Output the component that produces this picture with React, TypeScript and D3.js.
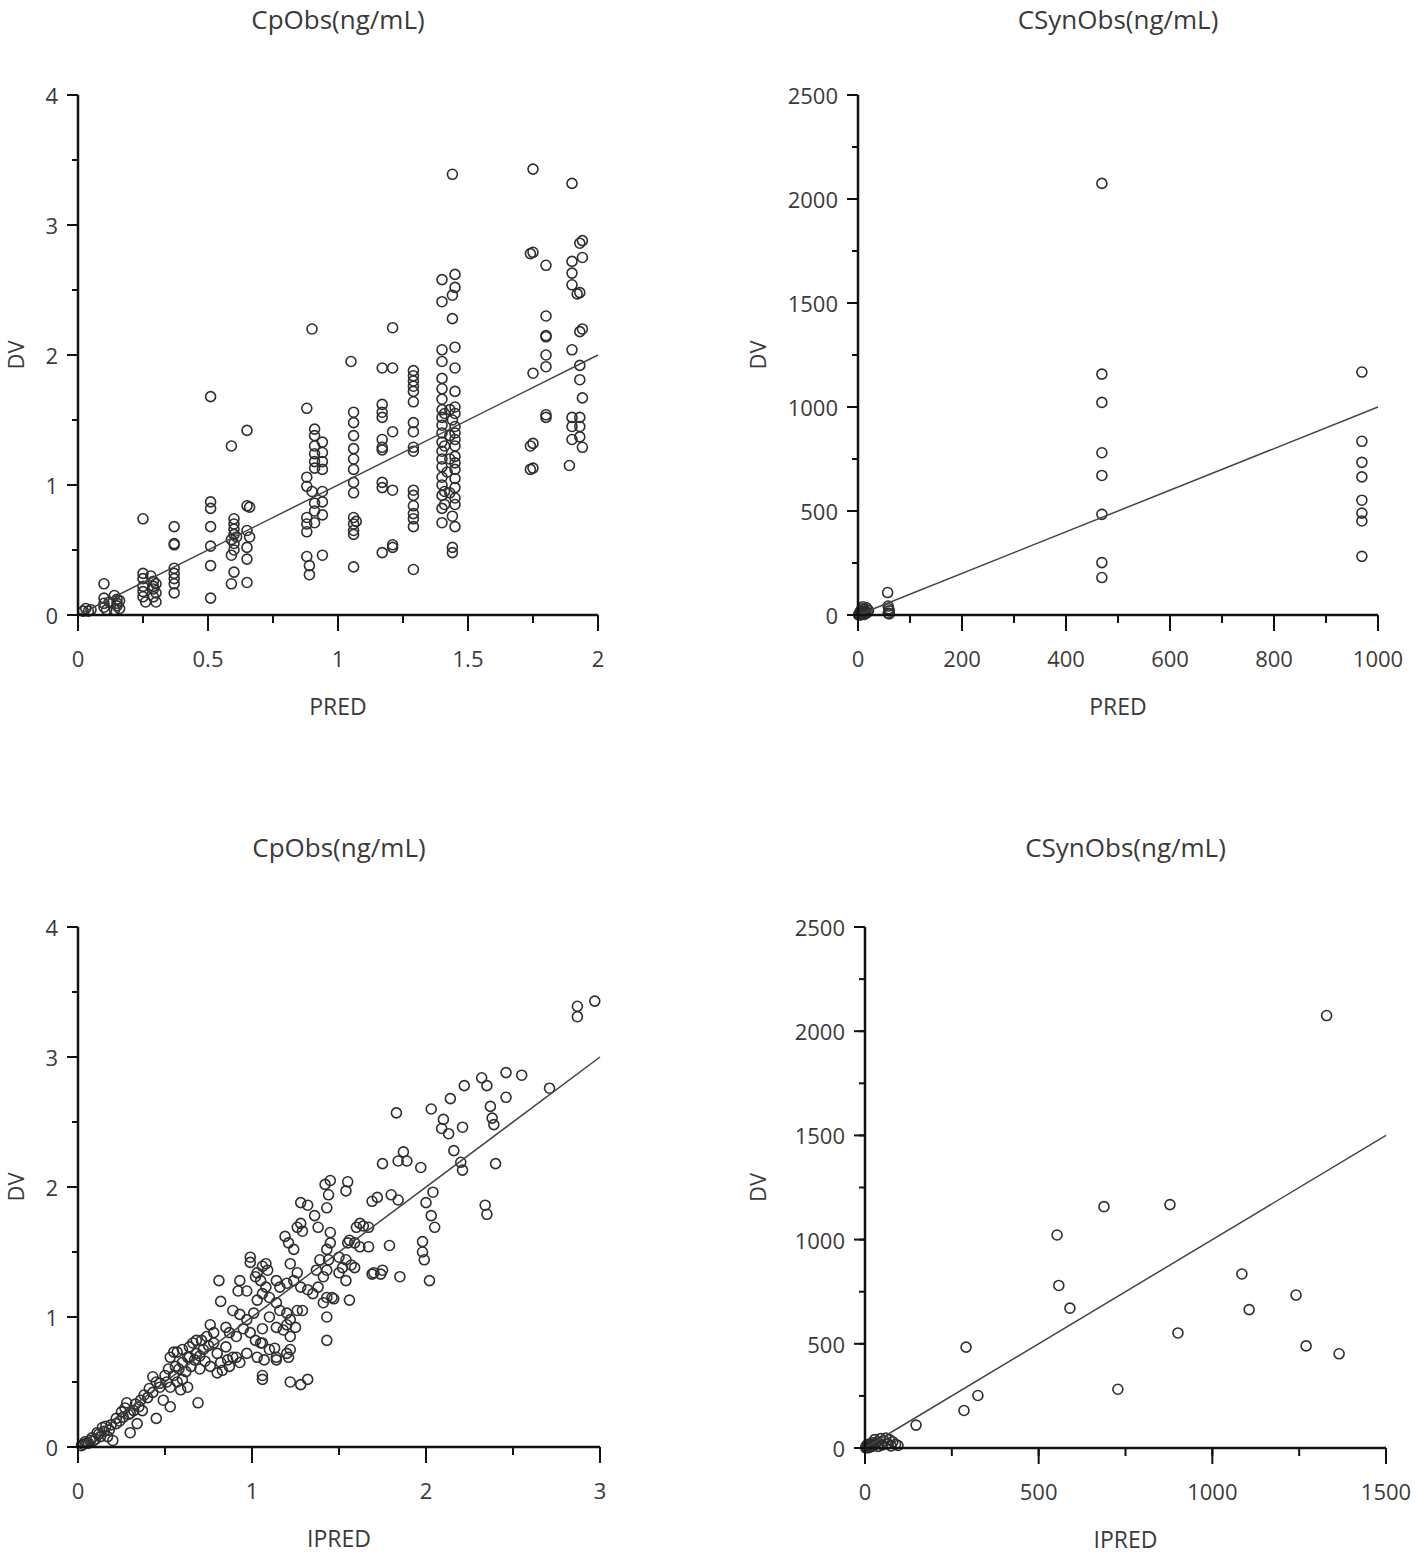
import React from "react";
import * as d3 from "d3";

// ---------- DATA ----------
// Panel 1: CpObs DV vs PRED
const cpPredPoints: [number, number][] = [
  [0.02,0.03],[0.03,0.05],[0.04,0.03],[0.05,0.04],
  [0.1,0.24],[0.1,0.13],[0.1,0.09],[0.1,0.06],[0.11,0.04],[0.12,0.1],
  [0.14,0.15],[0.15,0.12],[0.15,0.09],[0.15,0.07],[0.16,0.05],[0.14,0.04],[0.16,0.11],
  [0.25,0.74],[0.25,0.32],[0.25,0.28],[0.25,0.22],[0.25,0.18],[0.25,0.14],[0.26,0.1],
  [0.28,0.3],[0.29,0.26],[0.29,0.22],[0.29,0.2],[0.3,0.17],[0.29,0.14],[0.3,0.1],[0.3,0.24],
  [0.37,0.68],[0.37,0.55],[0.37,0.54],[0.37,0.36],[0.37,0.32],[0.37,0.28],[0.37,0.24],[0.37,0.17],
  [0.51,1.68],[0.51,0.87],[0.51,0.82],[0.51,0.68],[0.51,0.53],[0.51,0.38],[0.51,0.13],
  [0.59,1.3],[0.6,0.74],[0.6,0.7],[0.6,0.66],[0.6,0.62],[0.59,0.58],[0.6,0.55],[0.6,0.5],[0.59,0.46],[0.6,0.33],[0.59,0.24],[0.61,0.6],
  [0.65,1.42],[0.65,0.84],[0.66,0.83],[0.65,0.65],[0.66,0.6],[0.65,0.52],[0.65,0.43],[0.65,0.25],
  [0.88,1.59],[0.88,1.06],[0.88,0.99],[0.88,0.75],[0.88,0.7],[0.88,0.64],[0.88,0.45],[0.89,0.38],[0.89,0.31],
  [0.9,2.2],[0.91,1.43],[0.91,1.38],[0.91,1.3],[0.91,1.24],[0.91,1.18],[0.91,1.13],[0.91,0.86],[0.91,0.8],[0.91,0.71],[0.9,0.95],
  [0.94,1.33],[0.94,1.25],[0.94,1.18],[0.94,1.12],[0.94,0.95],[0.94,0.87],[0.94,0.77],[0.94,0.46],
  [1.05,1.95],[1.06,1.56],[1.06,1.48],[1.06,1.38],[1.06,1.28],[1.06,1.2],[1.06,1.12],[1.06,1.02],[1.06,0.94],[1.06,0.75],[1.06,0.7],[1.06,0.65],[1.06,0.62],[1.06,0.37],[1.07,0.72],
  [1.17,1.9],[1.17,1.62],[1.17,1.56],[1.17,1.52],[1.17,1.35],[1.17,1.29],[1.17,1.27],[1.17,1.02],[1.17,0.98],[1.17,0.48],
  [1.21,2.21],[1.21,1.9],[1.21,1.41],[1.21,0.96],[1.21,0.54],[1.21,0.52],
  [1.29,1.88],[1.29,1.84],[1.29,1.8],[1.29,1.76],[1.29,1.72],[1.29,1.48],[1.29,1.41],[1.29,1.29],[1.29,1.26],[1.29,0.96],[1.29,0.92],[1.29,0.84],[1.29,0.78],[1.29,0.74],[1.29,0.68],[1.29,0.35],[1.29,1.64],
  [1.4,2.58],[1.4,2.41],[1.4,2.04],[1.4,1.95],[1.4,1.82],[1.4,1.74],[1.4,1.66],[1.4,1.58],[1.4,1.52],[1.4,1.46],[1.4,1.4],[1.4,1.33],[1.4,1.26],[1.4,1.2],[1.4,1.14],[1.4,1.06],[1.4,1.0],[1.4,0.92],[1.4,0.82],[1.4,0.71],[1.41,1.55],[1.41,1.3],[1.41,0.95],[1.41,0.85],[1.42,1.1],
  [1.44,3.39],[1.45,2.62],[1.45,2.52],[1.44,2.46],[1.44,2.28],[1.45,2.06],[1.45,1.9],[1.45,1.72],[1.45,1.6],[1.45,1.55],[1.44,1.5],[1.45,1.45],[1.45,1.4],[1.45,1.35],[1.45,1.3],[1.45,1.22],[1.45,1.17],[1.45,1.12],[1.45,1.05],[1.45,0.98],[1.45,0.9],[1.45,0.85],[1.44,0.76],[1.45,0.68],[1.44,0.52],[1.44,0.48],[1.43,1.58],[1.43,1.38],[1.43,1.2],[1.43,0.94],
  [1.75,3.43],[1.75,2.79],[1.74,2.78],[1.75,1.86],[1.75,1.32],[1.74,1.3],[1.75,1.13],[1.74,1.12],
  [1.8,2.69],[1.8,2.3],[1.8,2.15],[1.8,2.14],[1.8,2.0],[1.8,1.91],[1.8,1.54],[1.8,1.52],
  [1.9,3.32],[1.9,2.72],[1.9,2.63],[1.9,2.54],[1.9,2.04],[1.9,1.52],[1.9,1.45],[1.9,1.35],[1.89,1.15],
  [1.94,2.88],[1.93,2.86],[1.94,2.75],[1.93,2.48],[1.92,2.47],[1.94,2.2],[1.93,2.18],[1.93,1.92],[1.93,1.81],[1.94,1.67],[1.93,1.52],[1.93,1.45],[1.93,1.37],[1.94,1.29],
];

// Panel 2: CSynObs DV vs PRED
const csynPredPoints: [number, number][] = [
  [1,1],[2,5],[3,10],[4,1],[5,2],[5,20],[6,8],[7,3],[8,15],[8,30],[9,40],[10,5],[10,12],[12,25],[12,3],[14,18],[15,8],[16,35],[18,12],[20,22],
  [57,108],[58,43],[59,30],[60,20],[58,9],[60,5],
  [469,2075],[469,1158],[469,1022],[469,780],[469,671],[469,484],[469,252],[469,180],
  [969,1168],[969,835],[969,734],[969,664],[969,552],[969,490],[969,452],[969,282],
];

// Panel 3: CpObs DV vs IPRED
const cpIpredPoints: [number, number][] = [
  [2.97,3.43],[2.87,3.39],[2.87,3.31],[2.71,2.76],[2.55,2.86],[2.46,2.88],[2.46,2.69],[2.32,2.84],[2.35,2.78],[2.22,2.78],[2.37,2.62],[2.38,2.53],[2.39,2.48],[2.4,2.18],[2.34,1.86],[2.35,1.79],[2.14,2.68],[2.03,2.6],[1.83,2.57],[2.21,2.46],[2.1,2.52],[2.09,2.45],[2.13,2.41],[2.16,2.28],[2.2,2.19],[2.21,2.13],[1.87,2.27],[1.84,2.2],[1.89,2.2],[1.97,2.15],[1.75,2.18],[2.04,1.96],[2.0,1.88],[2.03,1.78],[2.05,1.69],[1.98,1.5],[1.99,1.44],[2.02,1.28],[1.98,1.58],[1.85,1.31],[1.8,1.94],[1.84,1.9],[1.72,1.92],[1.69,1.89],[1.79,1.55],[1.75,1.36],[1.69,1.33],[1.74,1.33],
  [1.55,2.04],[1.54,1.97],[1.45,2.05],[1.42,2.02],[1.44,1.94],[1.28,1.88],[1.32,1.86],[1.36,1.78],[1.43,1.84],[1.28,1.72],[1.26,1.69],[1.29,1.66],[1.38,1.69],[1.45,1.65],[1.45,1.57],[1.43,1.52],[1.62,1.72],[1.6,1.69],[1.67,1.69],[1.64,1.7],[1.56,1.59],[1.59,1.57],[1.67,1.54],[1.55,1.57],[1.62,1.54],[1.19,1.62],[1.21,1.57],[1.24,1.52],[0.99,1.46],[0.99,1.42],[1.08,1.41],[1.09,1.36],[1.22,1.41],[1.26,1.34],[1.39,1.44],[1.44,1.44],[1.5,1.46],[1.54,1.44],[1.57,1.4],[1.52,1.38],[1.59,1.38],[1.54,1.28],[1.5,1.34],[1.43,1.36],[1.41,1.31],[1.37,1.36],[1.7,1.34],[0.81,1.28],[0.93,1.28],[1.02,1.31],[1.05,1.28],[1.08,1.23],[1.14,1.28],[1.16,1.23],[1.2,1.26],[1.24,1.28],[1.28,1.23],[1.32,1.21],[1.35,1.18],[1.38,1.23],[1.43,1.15],[1.47,1.14],[1.56,1.13],[0.82,1.12],[0.89,1.05],[0.93,1.02],[0.97,0.98],[1.01,1.03],[1.03,1.13],[1.06,1.18],[1.1,1.15],[1.14,1.11],[1.16,1.05],[1.2,1.03],[1.22,0.98],[1.26,1.05],[1.29,1.05],[1.41,1.11],[1.43,1.0],[1.46,1.15],[0.76,0.94],[0.78,0.88],[0.85,0.92],[0.87,0.88],[0.91,0.85],[0.95,0.91],[0.99,0.88],[1.02,0.82],[1.06,0.91],[1.1,1.0],[1.14,0.92],[1.18,0.9],[1.2,0.94],[1.22,0.85],[1.25,0.92],[1.43,0.82],[0.85,0.77],[0.89,0.69],[0.97,0.72],[1.03,0.69],[1.06,0.8],[1.07,0.67],[1.13,0.76],[1.14,0.67],[1.22,0.75],[1.21,0.69],[1.06,0.55],[1.06,0.52],[1.22,0.5],[1.28,0.48],[1.32,0.52],[0.92,1.2],[0.97,1.2],[1.03,1.34],[1.06,1.39],[1.1,0.75],[1.14,0.69],[1.2,0.72],[1.05,0.8],
  [0.74,0.85],[0.71,0.82],[0.68,0.82],[0.64,0.77],[0.6,0.75],[0.57,0.73],[0.53,0.69],[0.56,0.62],[0.6,0.65],[0.64,0.69],[0.43,0.54],[0.47,0.49],[0.53,0.46],[0.59,0.44],[0.63,0.46],[0.69,0.34],[0.45,0.22],[0.53,0.31],[0.49,0.36],[0.28,0.34],[0.32,0.28],[0.36,0.36],[0.4,0.38],[0.3,0.11],[0.34,0.18],[0.26,0.23],[0.22,0.18],[0.14,0.15],[0.18,0.13],[0.13,0.08],[0.09,0.05],[0.05,0.03],[0.17,0.08],[0.2,0.05],[0.8,0.72],[0.82,0.65],[0.86,0.67],[0.87,0.62],[0.91,0.69],[0.93,0.65],[0.76,0.62],[0.8,0.57],[0.83,0.59],[0.66,0.8],[0.68,0.72],[0.63,0.69],[0.55,0.73],[0.47,0.46],[0.51,0.5],[0.43,0.42],[0.37,0.28],[0.3,0.26],[0.11,0.11],[0.07,0.05],[0.03,0.02],[0.22,0.22],[0.02,0.01],[0.04,0.04],[0.06,0.03],[0.08,0.07],[0.1,0.06],[0.12,0.1],[0.15,0.12],[0.16,0.16],[0.19,0.17],[0.24,0.2],[0.25,0.27],[0.27,0.3],[0.29,0.25],[0.33,0.33],[0.35,0.31],[0.38,0.4],[0.41,0.45],[0.45,0.5],[0.5,0.55],[0.52,0.6],[0.55,0.55],[0.58,0.6],[0.62,0.58],[0.65,0.62],[0.67,0.67],[0.7,0.7],[0.72,0.75],[0.73,0.66],[0.75,0.78],[0.78,0.8],[0.7,0.6],[0.6,0.52],[0.57,0.5],
];

// Panel 4: CSynObs DV vs IPRED
const csynIpredPoints: [number, number][] = [
  [2,1],[3,8],[5,3],[6,15],[8,6],[10,2],[12,10],[14,20],[15,5],[18,14],[20,8],[22,25],[25,12],[28,40],[30,18],[35,30],[38,8],[40,22],[45,45],[50,15],[55,35],[60,48],[65,20],[70,40],[75,10],[80,30],[88,18],[95,12],
  [147,110],[285,180],[291,484],[325,252],
  [553,1022],[558,780],[590,671],[688,1158],[728,282],[878,1168],[901,552],
  [1085,835],[1106,664],[1241,734],[1270,490],[1329,2075],[1365,452],
];

const panelTitles = ["CpObs(ng/mL)", "CSynObs(ng/mL)", "CpObs(ng/mL)", "CSynObs(ng/mL)"];
const xAxisLabels = ["PRED", "PRED", "IPRED", "IPRED"];
const yAxisLabel = "DV";
const xDomains: [number, number][] = [[0, 2], [0, 1000], [0, 3], [0, 1500]];
const yDomains: [number, number][] = [[0, 4], [0, 2500], [0, 4], [0, 2500]];
const xMajorSteps = [0.5, 200, 1, 500];
const xMinorSteps = [0.25, 100, 0.5, 250];
const yMajorSteps = [1, 500, 1, 500];
const yMinorSteps = [0.5, 250, 0.5, 250];
const panelData = [cpPredPoints, csynPredPoints, cpIpredPoints, csynIpredPoints];

// ---------- LAYOUT ----------
const layouts = [
  { left: 78, right: 598, top: 95, bottom: 615, titleY: 29, labelX: 15 },
  { left: 858, right: 1378, top: 95, bottom: 615, titleY: 29, labelX: 757 },
  { left: 78, right: 600, top: 927, bottom: 1447, titleY: 857, labelX: 15 },
  { left: 865, right: 1386, top: 927, bottom: 1448, titleY: 857, labelX: 757 },
];

const FONT = "'Open Sans', 'Noto Sans', sans-serif";
const TEXT_COLOR = "#3a3a3a";

function steps(d: [number, number], s: number) {
  return d3.range(d[0], d[1] + s * 0.001, s);
}

function Panel({ i }: { i: number }) {
  const L = layouts[i];
  const x = d3.scaleLinear().domain(xDomains[i]).range([L.left, L.right]);
  const y = d3.scaleLinear().domain(yDomains[i]).range([L.bottom, L.top]);
  const fmt = d3.format("~g");
  const xMaj = steps(xDomains[i], xMajorSteps[i]);
  const xMin = steps(xDomains[i], xMinorSteps[i]);
  const yMaj = steps(yDomains[i], yMajorSteps[i]);
  const yMin = steps(yDomains[i], yMinorSteps[i]);
  const xmax = xDomains[i][1];
  const line = d3.line<[number, number]>().x((d) => x(d[0])).y((d) => y(d[1]));
  const cx = (L.left + L.right) / 2;
  const cy = (L.top + L.bottom) / 2;
  return (
    <g>
      <text x={cx} y={L.titleY} textAnchor="middle" fontFamily={FONT} fontSize={26} fill={TEXT_COLOR}>
        {panelTitles[i]}
      </text>
      {panelData[i].map((d, k) => (
        <circle key={k} cx={x(d[0])} cy={y(d[1])} r={5} fill="none" stroke="#2e2e2e" strokeWidth={1.6} />
      ))}
      <path d={line([[0, 0], [xmax, xmax]]) || ""} stroke="#444" strokeWidth={1.5} fill="none" />
      <line x1={L.left} x2={L.left} y1={L.top} y2={L.bottom + 1} stroke="#111" strokeWidth={2.5} />
      <line x1={L.left - 1} x2={L.right} y1={L.bottom} y2={L.bottom} stroke="#111" strokeWidth={2.5} />
      {xMin.map((v, k) => (
        <line key={"xm" + k} x1={x(v)} x2={x(v)} y1={L.bottom} y2={L.bottom + 8} stroke="#111" strokeWidth={2} />
      ))}
      {xMaj.map((v, k) => (
        <g key={"xM" + k}>
          <line x1={x(v)} x2={x(v)} y1={L.bottom} y2={L.bottom + 16} stroke="#111" strokeWidth={2} />
          <text x={x(v)} y={L.bottom + 43} textAnchor="middle" dominantBaseline="central" fontFamily={FONT} fontSize={22} fill={TEXT_COLOR}>
            {fmt(v)}
          </text>
        </g>
      ))}
      {yMin.map((v, k) => (
        <line key={"ym" + k} x1={L.left - 6} x2={L.left} y1={y(v)} y2={y(v)} stroke="#111" strokeWidth={2} />
      ))}
      {yMaj.map((v, k) => (
        <g key={"yM" + k}>
          <line x1={L.left - 11} x2={L.left} y1={y(v)} y2={y(v)} stroke="#111" strokeWidth={2} />
          <text x={L.left - 20} y={y(v)} textAnchor="end" dominantBaseline="central" fontFamily={FONT} fontSize={22} fill={TEXT_COLOR}>
            {fmt(v)}
          </text>
        </g>
      ))}
      <text x={cx} y={L.bottom + 100} textAnchor="middle" fontFamily={FONT} fontSize={23} fill={TEXT_COLOR}>
        {xAxisLabels[i]}
      </text>
      <text
        transform={`translate(${L.labelX},${cy}) rotate(-90)`}
        textAnchor="middle"
        dominantBaseline="central"
        fontFamily={FONT}
        fontSize={22}
        fill={TEXT_COLOR}
      >
        {yAxisLabel}
      </text>
    </g>
  );
}

export default function App() {
  return (
    <svg
      width={1416}
      height={1554}
      style={{ position: "absolute", left: 0, top: 0, background: "#fff" }}
    >
      <rect width={1416} height={1554} fill="#fff" />
      {[0, 1, 2, 3].map((i) => (
        <Panel key={i} i={i} />
      ))}
    </svg>
  );
}
